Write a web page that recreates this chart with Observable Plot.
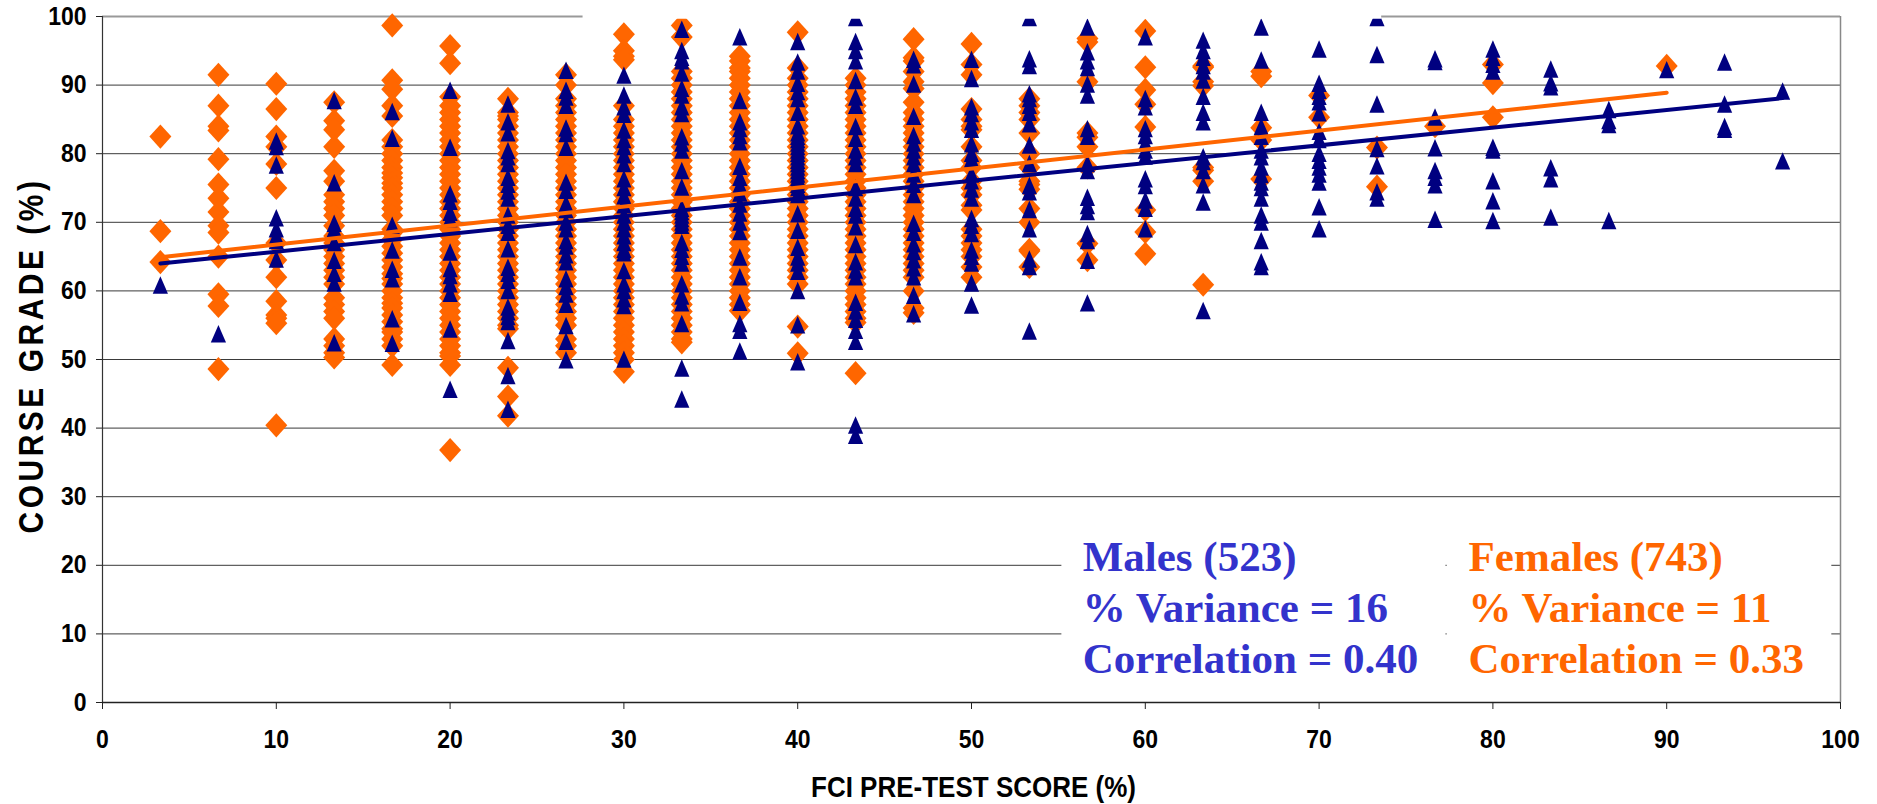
<!DOCTYPE html>
<html>
<head>
<meta charset="utf-8">
<script src="https://cdn.jsdelivr.net/npm/d3@7"></script>
<script src="https://cdn.jsdelivr.net/npm/@observablehq/plot@0.6"></script>
<style>
html,body{margin:0;padding:0;background:#fff}
svg{display:block}
</style>
</head>
<body>
<div id="chart"></div>
<script>
const xTicks = [0,10,20,30,40,50,60,70,80,90,100];
const yTicks = [0,10,20,30,40,50,60,70,80,90,100];
const gridValues = [10,20,30,40,50,60,70,80,90];

const femaleX = [3.33,6.67,10,13.33,16.67,20,23.33,26.67,30,33.33,36.67,40,43.33,46.67,50,53.33,56.67,60,63.33,66.67,70,73.33,76.67,80,90];
const femaleGrades = [
 [82.5,68.7,64.2],
 [91.5,87,84,83.4,79.2,75.5,73.5,71.5,69.5,68.5,65,59.5,57.8,48.6],
 [90.2,86.5,82.5,81,78.5,75,67,64.5,62,58.5,56.5,56,55.3,40.4],
 [87.5,84.8,83.5,81,77.5,76,74,73,72,71,69.5,68,67,66,65,64,63,62,61,59,58,57,56,53,52,51,50.3],
 [98.7,90.7,89.4,87,85.5,82,81,80,79,78,77.2,76.5,75.7,75,74,73,72,71,69,68.5,67.5,66.5,65.5,64.5,63.5,62.5,61.8,61,60,59,58.2,57.5,56.5,55.5,54.5,54,53,52,49.2],
 [95.7,93.2,88.3,87,86,85,84,83,82,81,80,79,78,77,76,75,74,73,72,71,70,69,68,67,66,65,64,63,62,61,60,59,58,57,56,55,54,53,52,51,50.5,49.2,36.8],
 [88,86,85.5,85,84,83,82,81,80,79,78,77,76,75,74,73,72,71,70,69,68,67,66,65,64,63,62,61,60,59,58,57,56,55,54.5,48.8,44.6,41.8],
 [91.5,90,88,87,86,85,84,83,82,81,80,79,78,77,76,75,74,73,72,71,70,69,68,67,66,65,64,63,62,61,60,59,58,57,56,55,53,52,51],
 [97.4,95,94.2,93.7,87,85,84,83,82,81,80,79,78,77,76,75,74,73,72,71,70,69,68,67,66,65,64,63,62,61,60,59,58,57,56,55,54,53,52,51,50,48.2],
 [98.7,97,92,91,90,89,88,87,86,85,84,83,82,81,80,79,78,77,76,75,74,73,72,71,70,69,68,67,66,65,64,63,62,61,60,59,58,57,56,55,54,53,52.5],
 [94.2,93.5,92.5,92,91,90,89,88,87,86,85,84,83,82,81,80,79,78,77,76,75,74,73,72,71,70,69,68,67,66,65,64,63,62,61,60,59,58,57.1],
 [97.7,92.5,91,90,89,88,87,86,85,84,83,82,81,80,79,78,77,76,75,74,73,72,71,70,69,68,67,66,65,64,63,62,61,54.8,50.9],
 [91,90,89,88,87,86,85,84,83,82,81,80,79,78,77,76,75,74,73,72,71,70,69,68,67,66,65,64,63,62,61,60,59,58,57,56,55.4,48],
 [96.7,94,93.5,92,90.5,89.5,87.5,86,85,84,83,82,81,80,79,78,77,76,75,74,73,72,71,70,69,68,67,66,65,64,63,62,60,57.5,56.8],
 [96,93,91.5,86.5,85,84,83.5,81,79,78,76,75,74,72.5,71.8,69,68,67,66,65,63.5,62],
 [88,87,86,85,83,80,78,76,75.5,74.8,72,70,66,65.8,63.5],
 [96.8,96.3,90.5,83,82.4,81,78,66.9,64.5],
 [97.9,92.6,89.3,87.2,83.9,71.8,68.6,65.4],
 [92.8,92.6,90.5,89.9,78,77.6,76,60.9],
 [92,91.3,83.8,82,76.3],
 [88.5,85.3],
 [80.9,75.2],
 [84],
 [93,90.3,85.3],
 [92.8]
];

const maleX = [3.33,6.67,10,13.33,16.67,20,23.33,26.67,30,33.33,36.67,40,43.33,46.67,50,53.33,56.67,60,63.33,66.67,70,73.33,76.67,80,83.33,86.67,90,93.33,96.67];
const maleGrades = [
 [60.8],
 [53.7],
 [81.8,81,78.3,70.6,69,68,67.3,64.6],
 [87.7,75.7,69.8,69,67,64.4,62.5,61.1,52.4],
 [86.1,82.2,69.5,65.9,63.1,61.7,55.9,52.3],
 [89.2,80.9,74.1,73,71.4,70.5,65.6,63.2,62.2,61,59.6,54.4,45.6],
 [87.2,84.6,83,80.4,79.5,78.5,76.5,75.5,74.5,73.5,71,69.5,68.5,66.1,63.4,62.5,61.5,60,57.6,56.9,56.2,55.5,52.7,47.6,42.7],
 [92.1,89.2,88.2,87,83.7,82.9,80.9,75.8,74.6,72.7,71.8,70,69,67.3,66.5,65.2,64.2,61.7,60.6,59.5,58,54.9,52.6,49.9],
 [91.4,88.5,86.8,85.7,83.4,82,81,79.8,78.5,76.3,75,73.8,72.5,71,70,69,68,67,66,65.5,62.9,61,60,58.8,57.8,50],
 [98.1,95,94,93.5,91.7,89.5,88.5,86.8,85.8,82.4,81.5,80.5,77.5,75.1,72,71.5,71,70.5,70,69.5,67,66,65,64,61,59.2,58.2,55.2,48.7,44.2],
 [97,87.7,84.6,83.6,82.6,81.7,78.1,76.5,75.4,74.2,72.6,71.3,70,68.6,64.9,62,58.3,55.2,54.2,51.2],
 [96.3,93.3,92,90.2,89,88,86,84,83,82.5,82,81.5,81,80.5,80,79.5,79,78.5,78,77.5,77,76.5,76,75.5,75,74,71.2,68.8,66.3,64.9,64,62.8,60,55,49.6],
 [99.8,96.3,95,93.5,90.6,88.2,87,83.9,82.2,80.5,79.5,78.5,75,73.5,72,71,69.3,66.7,64.2,63,62,58.3,57,55.8,54.2,52.6,40.4,38.9],
 [93.7,92.9,90.1,85.4,82.6,81.5,80.5,79.5,78.5,77,75.5,74,69.8,68.5,66.8,65.7,64.5,63.3,62,59.3,56.6],
 [93.7,90.9,86.8,85.8,84.6,83.5,81.4,80,79.2,77,76,74.8,73.5,70.5,69.5,68.3,65.9,65,64,61.1,57.9],
 [99.8,93.8,92.8,88.7,88,87,86,84.3,81.2,78.5,75.3,74.4,71.8,69,64.6,63.5,54.1],
 [98.4,94.8,93.5,92.5,90.1,88.5,83.6,82.5,78.5,77.5,73.6,72.4,71.5,68.3,67.3,64.4,58.2],
 [97,88,86.8,83.6,82.6,81.5,80.5,79.6,76.3,75.3,73.2,72,69],
 [96.5,95,94,92.8,92,90.7,88.3,86,84.6,79.5,78.8,77.5,75.4,72.9,57.1],
 [98.4,93.6,86,83.9,82.5,80.5,79.5,78,76.9,75.8,75,73.5,71,70,67.3,64.2,63.5],
 [95.2,90.2,89.2,88.3,87.5,85.9,83.2,82,80,79,78,77,75.8,72.2,69],
 [99.8,94.4,87.2,80.7,78.2,74.4,73.5],
 [93.8,93.4,85.3,80.8,77.5,76.5,75.4,70.4],
 [95.2,94,93,92,80.9,80.5,76,73.1,70.2],
 [92.3,90.3,89.7,77.9,76.3,70.7],
 [86.4,84.8,84.2,70.2],
 [92.2],
 [93.3,87.2,83.9,83.5],
 [89.1,78.9]
];

const maleTrendX = [3.33,96.67];
const maleTrendY = [64,88.1];
const femaleTrendX = [3.33,90];
const femaleTrendY = [64.9,88.9];

const maleNotes = ["Males (523)","% Variance = 16","Correlation = 0.40"];
const femaleNotes = ["Females (743)","% Variance = 11","Correlation = 0.33"];
const noteY = [19.2,11.7,4.3];
const maleNoteX = 56.4;
const femaleNoteX = 78.6;

const diamondMark = {draw(c,s){const k=Math.sqrt(s/Math.PI);c.moveTo(0,-1.1*k);c.lineTo(k,0);c.lineTo(0,1.1*k);c.lineTo(-k,0);c.closePath();}};
const triangleMark = {draw(c,s){const k=Math.sqrt(s/Math.PI);c.moveTo(0,-1.2*k);c.lineTo(k,1.1*k);c.lineTo(-k,1.1*k);c.closePath();}};

const flatten = (xs,cols) => xs.flatMap((x,i)=>cols[i].map(y=>({x,y})));
const femalePts = flatten(femaleX,femaleGrades);
const malePts = flatten(maleX,maleGrades);
const line = (xs,ys) => xs.map((x,i)=>({x,y:ys[i]}));
const notes = (t,x) => t.map((s,i)=>({s,x,y:noteY[i]}));

const ORANGE="#FF6600", NAVY="#000080", BLUE="#3333CC";
const xTitle="FCI PRE-TEST SCORE (%)", yTitle="COURSE GRADE (%)";

const chart = Plot.plot({
  width:1877, height:804,
  marginLeft:102, marginRight:37, marginTop:16, marginBottom:102,
  style:{fontFamily:"'Liberation Sans',Arial,sans-serif",background:"#fff",overflow:"visible"},
  x:{domain:[0,100]}, y:{domain:[0,100]},
  marks:[
    Plot.ruleY(gridValues,{stroke:"#3a3a3a",strokeWidth:1}),
    Plot.ruleY([100],{stroke:"#999",strokeWidth:2}),
    Plot.ruleX([100],{stroke:"#888",strokeWidth:1.5}),
    Plot.ruleX([0],{stroke:"#333",strokeWidth:1.2}),
    Plot.dot(femalePts,{x:"x",y:"y",symbol:diamondMark,r:11,fill:ORANGE,stroke:"none"}),
    Plot.dot(malePts,{x:"x",y:"y",symbol:triangleMark,r:7.6,fill:NAVY,stroke:"none"}),
    Plot.line(line(femaleTrendX,femaleTrendY),{x:"x",y:"y",stroke:ORANGE,strokeWidth:4}),
    Plot.line(line(maleTrendX,maleTrendY),{x:"x",y:"y",stroke:NAVY,strokeWidth:4}),
    Plot.rect([{x1:27.65,x2:73.6,y1:99.6,y2:102.4}],{x1:"x1",x2:"x2",y1:"y1",y2:"y2",fill:"#fff"}),
    Plot.rect([{x1:55.2,x2:77.3,y1:1,y2:25},{x1:77.37,x2:99.5,y1:1,y2:25}],{x1:"x1",x2:"x2",y1:"y1",y2:"y2",fill:"#fff"}),
    Plot.ruleY([0],{stroke:"#222",strokeWidth:1.6}),
    Plot.axisX({ticks:xTicks,tickSize:7,tickPadding:21,label:null,fontSize:23,fontWeight:"bold",fill:"#000",stroke:"#222"}),
    Plot.axisY({ticks:yTicks,tickSize:6,tickPadding:10,label:null,fontSize:23,fontWeight:"bold",fill:"#000",stroke:"#222"}),
    Plot.text(notes(maleNotes,maleNoteX),{x:"x",y:"y",text:"s",textAnchor:"start",lineAnchor:"bottom",fill:BLUE,fontFamily:"'Liberation Serif',serif",fontWeight:"bold",fontSize:43}),
    Plot.text(notes(femaleNotes,femaleNoteX),{x:"x",y:"y",text:"s",textAnchor:"start",lineAnchor:"bottom",fill:ORANGE,fontFamily:"'Liberation Serif',serif",fontWeight:"bold",fontSize:43}),
    Plot.text([xTitle],{frameAnchor:"bottom",textAnchor:"middle",lineAnchor:"bottom",dx:2,dy:94,fill:"#000",fontWeight:"bold",fontSize:26}),
    Plot.text([yTitle],{frameAnchor:"left",textAnchor:"middle",rotate:-90,dx:-71,dy:-4,fill:"#000",fontWeight:"bold",fontSize:30})
  ]
});
const stretch = (sel,k) => sel.each(function(){const t=this.getAttribute("transform");if(t)this.setAttribute("transform",t+` scale(1,${k})`);});
const allText = d3.select(chart).selectAll("text");
const yTitleText = allText.filter(function(){return this.textContent===yTitle;});
yTitleText.style("letter-spacing","3.5px");
stretch(yTitleText,1.15);
stretch(allText.filter(function(){return this.textContent===xTitle;}),1.1);
stretch(allText.filter(function(){return /^\d+$/.test(this.textContent);}),1.1);
document.getElementById("chart").append(chart);
</script>
</body>
</html>
